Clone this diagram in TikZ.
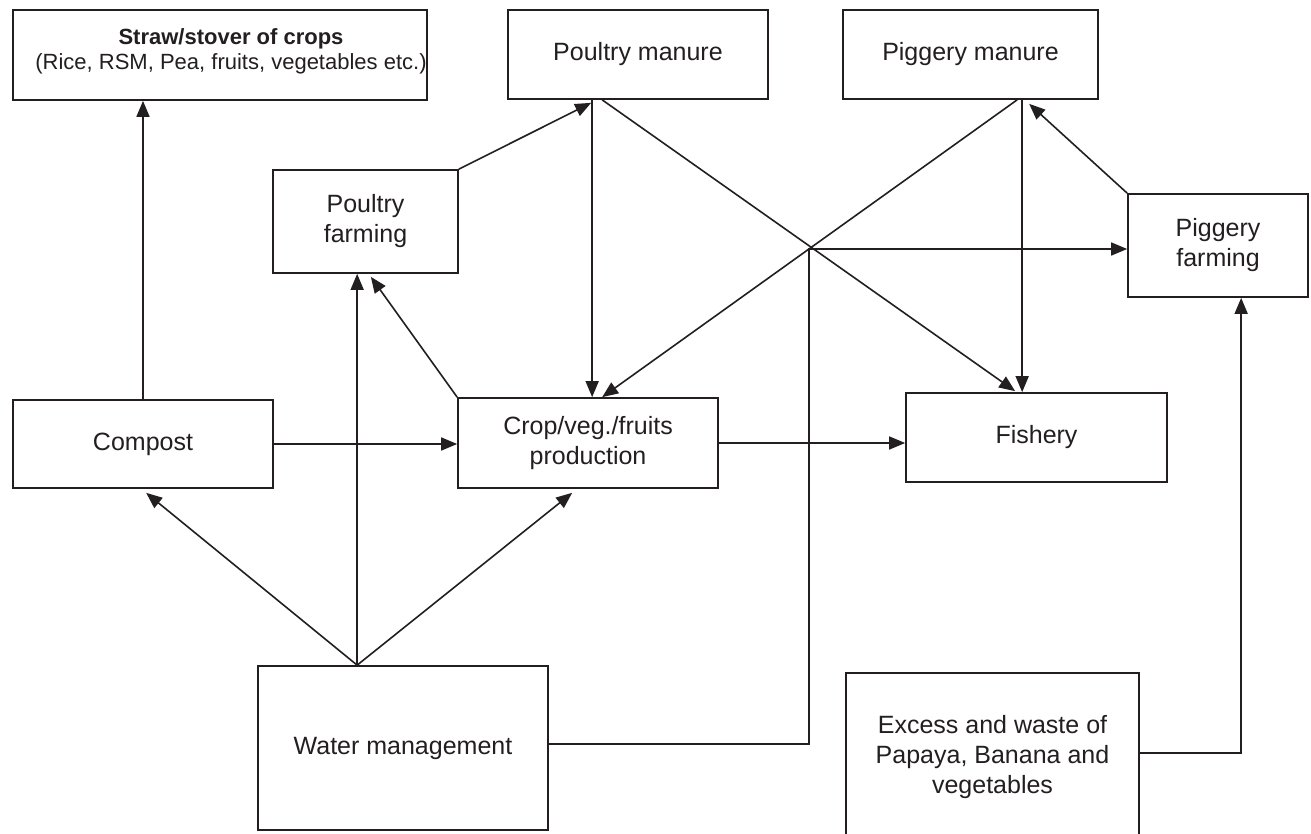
\documentclass[tikz,border=0pt]{standalone}
\usepackage{fontspec}
\setmainfont{Liberation Sans}
\usetikzlibrary{arrows.meta,calc}
\definecolor{ink}{RGB}{35,31,32}
\begin{document}
\begin{tikzpicture}[x=1pt,y=-1pt,
  box/.style={draw=ink,line width=1.7pt,inner sep=0pt,align=center,text=ink,
    font=\fontsize{25}{30}\selectfont},
  small/.style={inner sep=0pt,align=center,text=ink,font=\fontsize{22}{25}\selectfont},
  ln/.style={draw=ink,line width=1.6pt},
  arr/.style={ln,-{Triangle[length=16pt,width=13pt]}}]
\useasboundingbox (0,0) rectangle (1311,834);
\fill[white] (0,0) rectangle (1311,834);

% boxes
\node[box,minimum width=414pt,minimum height=90pt] (straw) at (220,55) {};
\node[small] (strawtext) at (231,51) {\textbf{Straw/stover of crops}\\(Rice, RSM, Pea, fruits, vegetables etc.)};
\node[box,minimum width=260pt,minimum height=89pt] (pman) at (638,54.5) {Poultry manure};
\node[box,minimum width=255pt,minimum height=89pt] (gman) at (970.5,54.5) {Piggery manure};
\node[box,minimum width=185pt,minimum height=103pt] (pfarm) at (365.5,221.5) {Poultry\\farming};
\node[box,minimum width=180pt,minimum height=103pt] (gfarm) at (1218,245.5) {Piggery\\farming};
\node[box,minimum width=260pt,minimum height=88pt] (compost) at (143,444) {Compost};
\node[box,minimum width=260pt,minimum height=90pt] (crop) at (588,443) {Crop/veg./fruits\\production};
\node[box,minimum width=261pt,minimum height=89pt] (fish) at (1036.5,437.5) {Fishery};
\node[box,minimum width=290pt,minimum height=164pt] (water) at (403,748) {Water management};
\node[box,minimum width=293pt,minimum height=168pt] (excess) at (992.5,757) {Excess and waste of\\Papaya, Banana and\\vegetables};

% junction points
\coordinate (wt) at ($(water.north west)+(100,0)$);
\coordinate (j) at (809,249);

% connectors
\draw[arr] (compost.north) -- (compost.north |- straw.south);
\draw[arr] (compost.east) -- (crop.west |- compost.east);
\draw[arr] (crop.east) -- (crop.east -| fish.west);
\draw[arr] (wt) -- ($(compost.south west)+(134,4)$);
\draw[arr] (wt) -- (wt |- pfarm.south);
\draw[arr] (wt) -- ($(crop.south west)+(115,4)$);
\draw[arr] (crop.north west) -- ($(pfarm.south east)+(-88,3)$);
\draw[arr] (pfarm.north east) -- ($(pman.south west)+(84,3)$);
\draw[arr] ($(pman.south west)+(85,0)$) -- ($(crop.north west)+(135,0)$);
\draw[arr] ($(pman.south west)+(95,0)$) -- ($(fish.north west)+(110,-1)$);
\draw[arr] ($(gman.south west)+(175,0)$) -- ($(crop.north west)+(145,0)$);
\draw[arr] ($(gman.south west)+(180,0)$) -- ($(fish.north west)+(117,0)$);
\draw[arr] (gfarm.north west) -- ($(gman.south west)+(187,4)$);
\draw[arr] ($(water.east)+(0,-4)$) -| (j) -- (j -| gfarm.west);
\draw[arr] ($(excess.east)+(0,-4)$) -| ($(gfarm.south west)+(114,0)$);
\end{tikzpicture}
\end{document}
